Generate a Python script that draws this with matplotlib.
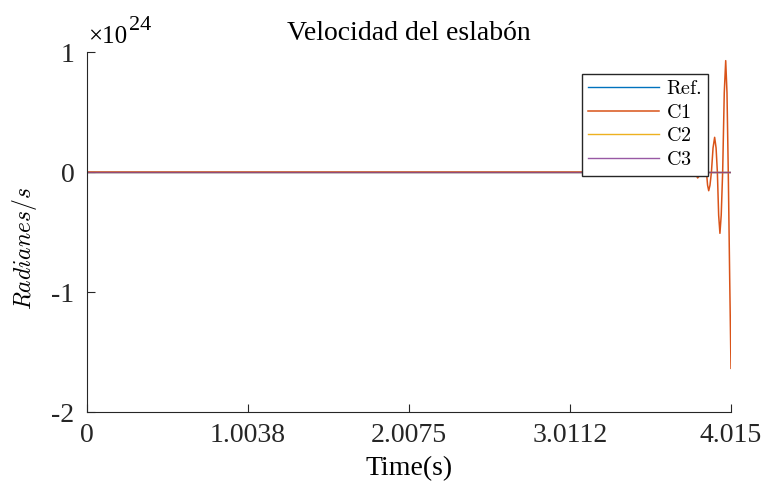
import matplotlib
matplotlib.use("Agg")
import matplotlib.pyplot as plt
import numpy as np

plt.rcParams['font.family'] = ['Liberation Serif', 'DejaVu Serif']
plt.rcParams['mathtext.fontset'] = 'cm'
plt.rcParams['axes.unicode_minus'] = False

# data (velocity in units of 1e24 rad/s)
t_flat = [0.0, 4.015]
ref_vals = [0.0, 0.0]
c2_vals = [0.0, 0.0]
c3_vals = [0.0, 0.0]

t_c1 = [0.0, 3.760, 3.775, 3.790, 3.807, 3.816, 3.825, 3.835, 3.845, 3.854,
        3.862, 3.869, 3.876, 3.884, 3.893, 3.903, 3.913, 3.922, 3.930, 3.938,
        3.946, 3.954, 3.963, 3.973, 3.982, 3.990, 3.998, 4.007, 4.015]
c1_vals = [0.0, 0.0, 0.02, 0.0, -0.05, -0.035, 0.0, 0.055, 0.08, 0.055,
           0.0, -0.11, -0.156, -0.11, 0.0, 0.20, 0.289, 0.20, 0.0, -0.36,
           -0.511, -0.36, 0.0, 0.66, 0.928, 0.66, 0.0, -0.90, -1.636]

scale = 1e24
x_ticks = [0, 1.0038, 2.0075, 3.0112, 4.015]
x_labels = ['0', '1.0038', '2.0075', '3.0112', '4.015']
y_ticks = [-2, -1, 0, 1]
y_labels = ['-2', '-1', '0', '1']

colors = ['#0072BD', '#D95319', '#EDB120', '#7E2F8E']

fig = plt.figure(figsize=(7.67, 4.95), dpi=100)
ax = fig.add_axes([87/767, 1 - 412/495, (731 - 87)/767, (412 - 52)/495])

ax.plot(t_flat, np.array(ref_vals) * scale, color=colors[0], lw=1.0, label=r'$\mathrm{Ref.}$')
ax.plot(t_c1, np.array(c1_vals) * scale, color=colors[1], lw=1.1, label=r'$\mathrm{C1}$')
ax.plot(t_flat, np.array(c2_vals) * scale, color=colors[2], lw=1.0, label=r'$\mathrm{C2}$')
ax.plot(t_flat, np.array(c3_vals) * scale, color=colors[3], lw=1.0, alpha=0.8, label=r'$\mathrm{C3}$')

ax.set_xlim(0, 4.015)
ax.set_ylim(-2 * scale, 1 * scale)
ax.set_xticks(x_ticks)
ax.set_xticklabels(x_labels)
ax.set_yticks([v * scale for v in y_ticks])
ax.set_yticklabels(y_labels)
ax.tick_params(direction='in', length=6, width=0.8, labelsize=20, colors='#262626')
ax.tick_params(axis='x', pad=8)
ax.tick_params(axis='y', pad=9)
for s in ['top', 'right']:
    ax.spines[s].set_visible(False)
for s in ['left', 'bottom']:
    ax.spines[s].set_color('#262626')
    ax.spines[s].set_linewidth(0.8)

ax.set_title('Velocidad del eslabón', fontsize=20, pad=9)
ax.set_xlabel('Time(s)', fontsize=20, labelpad=6)
ax.set_ylabel(r'$Radianes/s$', fontsize=17)
ax.yaxis.set_label_coords(-0.074, 0.455)

fig.text(88/767, 1 - 43/495, '×10', fontsize=18, va='baseline', ha='left')
fig.text(129/767, 1 - 30/495, '24', fontsize=16, va='baseline', ha='left')

leg = ax.legend(loc='upper left', bbox_to_anchor=((582 - 87)/644, (412 - 74)/360),
                fontsize=14.5, handlelength=3.5, handletextpad=0.35, labelspacing=0.22,
                borderpad=0.3, borderaxespad=0, fancybox=False, framealpha=1)
leg.get_frame().set_edgecolor('#262626')
leg.get_frame().set_linewidth(1.0)

fig.savefig('out.png', dpi=100)
